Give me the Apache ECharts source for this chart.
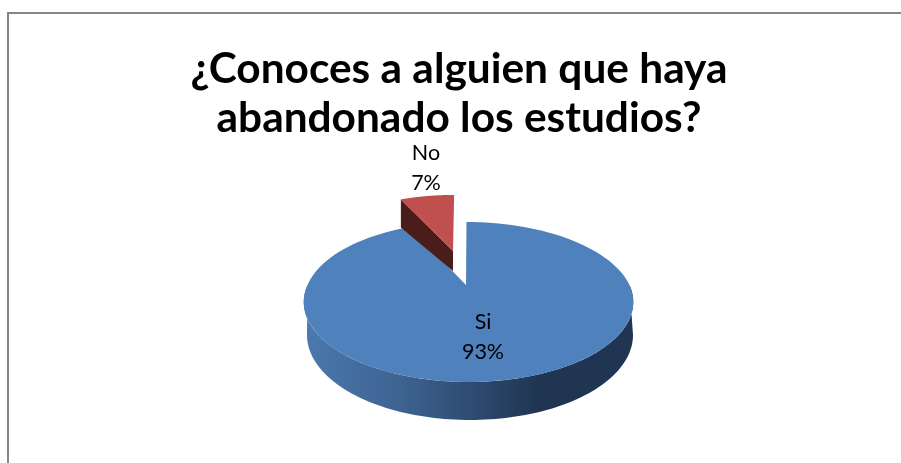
<!DOCTYPE html>
<html><head><meta charset="utf-8">
<style>html,body{margin:0;padding:0;background:#fff}#c{width:901px;height:463px}</style>
<script src="https://cdn.jsdelivr.net/npm/echarts@6/dist/echarts.min.js"></script>
</head><body><div id="c"></div>
<script>
const categories = ['Si', 'No'];
const percents = [93, 7];
const titleLines = ['¿Conoces a alguien que haya', 'abandonado los estudios?'];

const FONT = 'Lato, Carlito, Calibri, sans-serif';
const K = 0.2126, AX = 161, BY = 76.4, CX = 468.5, CY = 285;
const proj = (a) => {
  const u = Math.sin(a), v = Math.cos(a), d = 1 + K * v;
  return [CX + AX * u / d - 2 * Math.max(v, 0), CY - BY * v / d];
};
const arc = (a0, a1) => {
  const pts = [], n = 120;
  for (let i = 0; i <= n; i++) pts.push(proj(a0 + (a1 - a0) * i / n));
  return pts;
};
const botPt = t => [470 + 163 * Math.sin(t), 335 - 85 * Math.cos(t)];

function renderItem(params, api) {
  const total = percents.reduce((s, x) => s + x, 0);
  const val = api.value(0);
  const idx = params.dataIndex;
  const toA = p => p / total * 2 * Math.PI;
  const children = [];
  if (idx === 0) {
    const end = toA(val);
    const front = [];
    for (let i = 0; i <= 100; i++) front.push(botPt(Math.PI / 2 + Math.PI * i / 100));
    const topFront = arc(Math.PI * 0.5, Math.PI * 1.5).reverse();
    children.push({type: 'polygon', shape: {points: front.concat(topFront)},
      style: {fill: new echarts.graphic.LinearGradient(0, 0, 1, 0, [
        {offset: 0, color: '#4b79af'}, {offset: 0.3, color: '#3d6290'},
        {offset: 0.5, color: '#2f4c72'}, {offset: 0.72, color: '#1f3551'},
        {offset: 1, color: '#1f3551'}])}});
    children.push({type: 'polygon', shape: {points: [[466, CY]].concat(arc(0, end))},
      style: {fill: '#4f81bd'}});
    children.push({type: 'text', x: 483, y: 337.5, style: {text: categories[0] + '\n' + val + '%', font: '21.5px ' + FONT,
      fill: '#000', align: 'center', verticalAlign: 'middle', lineHeight: 30}});
  } else {
    const apex = [453, 251];
    const a0 = 2 * Math.PI - toA(val), a1 = 2 * Math.PI;
    const wedge = p => [apex[0] + 3 + (p[0] - CX) * 0.93, apex[1] + (p[1] - CY) * 0.89];
    const pts = arc(a0, a1).map(wedge);
    const e = pts[0];
    children.push({type: 'polygon', shape: {points: [e, apex, [apex[0], apex[1] + 20], [e[0], e[1] + 28]]},
      style: {fill: '#4a1c1a'}});
    children.push({type: 'polygon', shape: {points: [apex].concat(pts)},
      style: {fill: '#c0504d'}});
    children.push({type: 'text', x: 426, y: 168, style: {text: categories[1] + '\n' + val + '%', font: '21.5px ' + FONT,
      fill: '#000', align: 'center', verticalAlign: 'middle', lineHeight: 30}});
  }
  return {type: 'group', children};
}

const chart = echarts.init(document.getElementById('c'), null, {renderer: 'canvas'});
chart.setOption({
  backgroundColor: '#fff',
  animation: false,
  title: {text: titleLines.join('\n'), left: 454, top: 40, textAlign: 'center',
    textStyle: {fontFamily: FONT, fontWeight: 'bold', fontSize: 42.4, lineHeight: 49, color: '#000'}},
  graphic: [{type: 'rect', z: -10, shape: {x: 8, y: 13, width: 1000, height: 1000},
    style: {fill: 'none', stroke: '#868686', lineWidth: 2}}],
  series: [{type: 'custom', coordinateSystem: 'none', renderItem,
    data: [{value: [percents[0]], name: categories[0]}, {value: [percents[1]], name: categories[1]}]}]
});
</script></body></html>
